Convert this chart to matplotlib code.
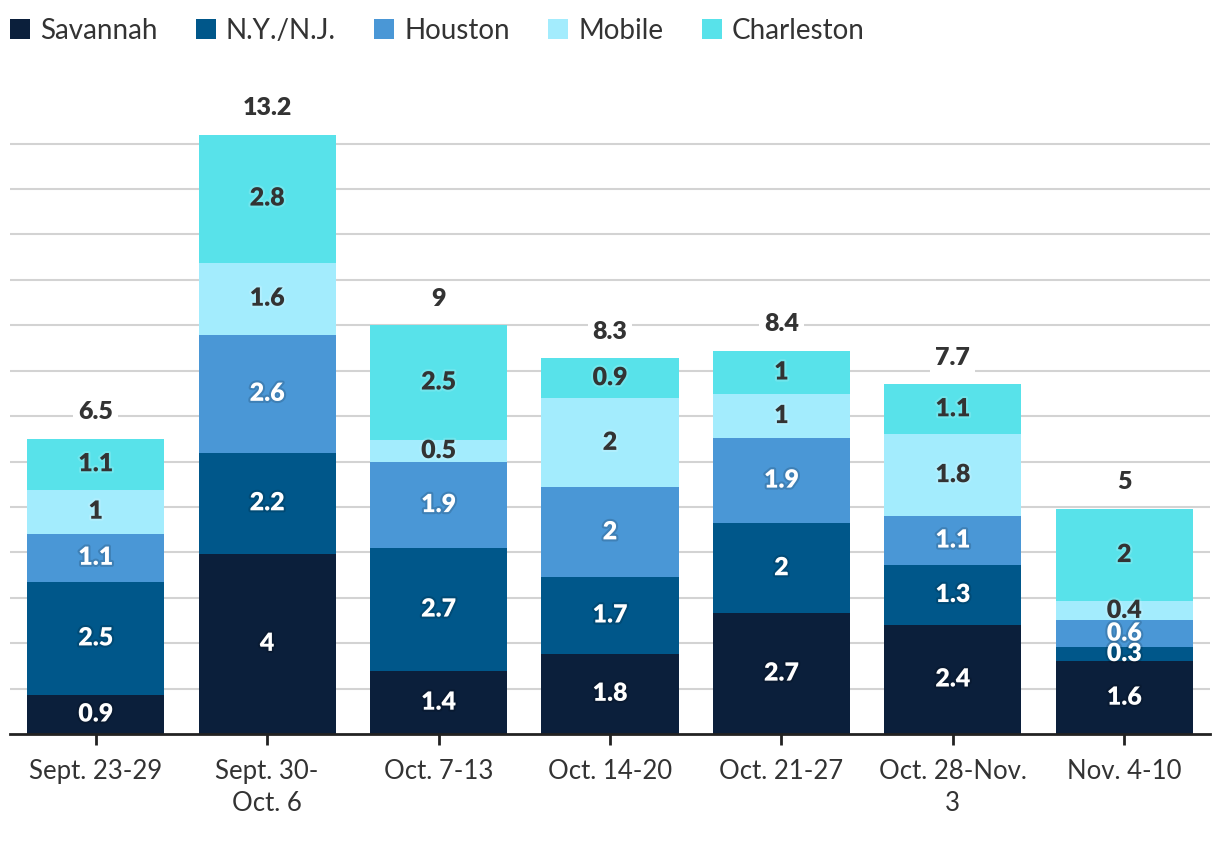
import matplotlib
matplotlib.use("Agg")
import matplotlib.pyplot as plt
import matplotlib.patheffects as pe
import numpy as np

plt.rcParams['font.family'] = ['Lato', 'DejaVu Sans']

categories = ["Sept. 23-29", "Sept. 30-\nOct. 6", "Oct. 7-13", "Oct. 14-20",
              "Oct. 21-27", "Oct. 28-Nov.\n3", "Nov. 4-10"]
series_names = ["Savannah", "N.Y./N.J.", "Houston", "Mobile", "Charleston"]
savannah = [0.86, 3.97, 1.38, 1.77, 2.66, 2.4, 1.6]
nynj = [2.49, 2.22, 2.72, 1.68, 1.98, 1.32, 0.32]
houston = [1.06, 2.6, 1.88, 1.98, 1.88, 1.08, 0.58]
mobile = [0.97, 1.59, 0.5, 1.96, 0.96, 1.8, 0.42]
charleston = [1.12, 2.82, 2.52, 0.89, 0.96, 1.1, 2.04]

colors = ["#0b1f3b", "#00578a", "#4a97d6", "#a3ecfd", "#58e2ea"]
label_colors = ["white", "white", "white", "#333333", "#333333"]


def fmt(v):
    return f"{round(v + 1e-9, 1):g}"


fig = plt.figure(figsize=(12.2, 8.42), dpi=100)
ax = fig.add_axes([10/1220, (842-734)/842, 1200/1220, (734-80)/842])

x = np.arange(len(categories))
data = [savannah, nynj, houston, mobile, charleston]
bottom = np.zeros(len(categories))
handles = []
for name, vals, col, lc in zip(series_names, data, colors, label_colors):
    vals = np.array(vals, dtype=float)
    b = ax.bar(x, vals, bottom=bottom, width=0.8, color=col, label=name, zorder=3)
    handles.append(b)
    for xi, v, bt in zip(x, vals, bottom):
        halo = "black" if lc == "white" else "white"
        t = ax.text(xi, bt + v / 2, fmt(v), ha="center", va="center",
                    fontsize=18, fontweight="heavy", color=lc, zorder=5)
        t.set_path_effects([pe.withStroke(linewidth=3, foreground=halo, alpha=0.15)])
    bottom += vals

for xi, top in zip(x, bottom):
    ax.annotate(fmt(top), (xi, top), xytext=(0, 19), textcoords="offset points",
                ha="center", va="center", fontsize=18, fontweight="heavy", color="#333333",
                bbox=dict(boxstyle="square,pad=0.2", fc="white", ec="none"), zorder=4)

ax.set_xlim(-0.5, len(categories) - 0.5)
ax.set_ylim(0, 14.4)
ax.set_yticks(np.arange(1, 14))
ax.yaxis.grid(True, color="#d3d3d3", linewidth=1.5, zorder=0)
ax.tick_params(axis="y", length=0, labelleft=False)
ax.set_xticks(x)
ax.set_xticklabels(categories, fontsize=18.5, color="#333333", linespacing=1.35)
ax.tick_params(axis="x", length=8, width=2, color="#222222", pad=10)
for s in ["left", "right", "top"]:
    ax.spines[s].set_visible(False)
ax.spines["bottom"].set_color("#222222")
ax.spines["bottom"].set_linewidth(2)
ax.spines["bottom"].set_zorder(6)

leg = fig.legend(handles=handles, labels=series_names, loc="center left",
                 bbox_to_anchor=(10/1220, 1 - 31/842), ncol=5, frameon=False,
                 fontsize=20, handlelength=0.72, handleheight=0.72, handletextpad=0.36,
                 columnspacing=1.38, borderpad=0, borderaxespad=0)
for t in leg.get_texts():
    t.set_color("#333333")

fig.savefig("out.png", dpi=100)
